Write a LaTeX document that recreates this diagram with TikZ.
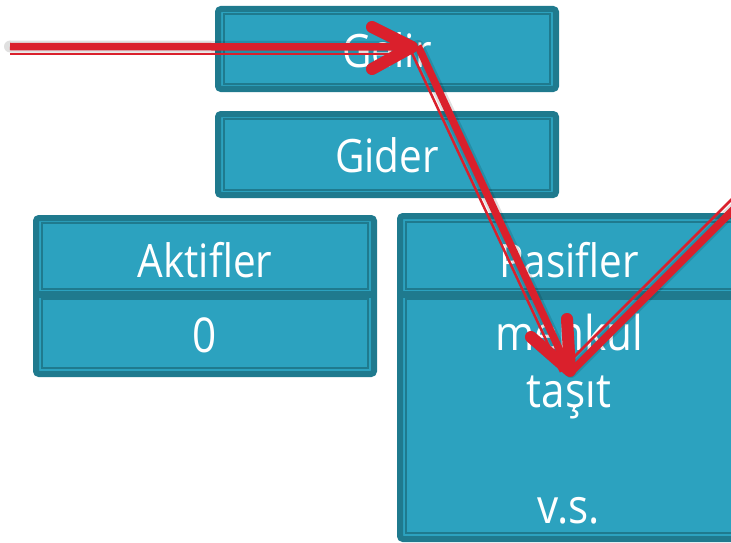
\documentclass[tikz,border=0pt]{standalone}
\usepackage{fontspec}
\setmainfont{Open Sans}[FakeStretch=0.88]
\definecolor{boxdark}{RGB}{31,122,142}
\definecolor{boxfill}{RGB}{44,162,191}
\definecolor{ink}{RGB}{218,32,44}
\tikzset{
  outerbox/.style={fill=boxfill, draw=boxdark, line width=6pt, rounded corners=3pt},
  innerline/.style={draw=boxdark, line width=1.6pt},
  divider/.style={draw=boxdark, line width=7pt},
  head/.style={text=white, font=\fontsize{46}{50}\selectfont, anchor=base, inner sep=0pt},
  body/.style={text=white, font=\fontsize{48}{52}\selectfont, anchor=base, inner sep=0pt},
  inkthick/.style={draw=ink, line width=7.5pt},
  inkthin/.style={draw=ink, line width=2.5pt},
  inkhead/.style={draw=ink, line width=12pt, line cap=round, line join=round},
  inkshadow/.style={draw=black, opacity=0.12, line width=12pt, line cap=round, line join=round},
}
\begin{document}
\begin{tikzpicture}[x=1pt,y=-1pt]
\useasboundingbox (0,0) rectangle (731,543);
\clip (0,0) rectangle (731,543);
% Gelir
\draw[outerbox] (218,9) rectangle (556,89);
\draw[innerline] (224,14) rectangle (550,84);
\node[head] (gelir) at (387,67) {Gelir};
% Gider
\draw[outerbox] (218,114) rectangle (556,195);
\draw[innerline] (224,119) rectangle (550,190);
\node[head] (gider) at (387,172) {Gider};
% Aktifler
\draw[outerbox] (36,218) rectangle (374,374);
\draw[divider] (36,294) -- (374,294);
\draw[innerline] (42,223) rectangle (368,289);
\draw[innerline] (42,299) rectangle (368,368);
\node[head] (aktif) at (205,277) {Aktifler};
\node[body] (sifir) at (205,352) {0};
% Pasifler
\draw[outerbox] (400,216) rectangle (738,539);
\draw[divider] (400,294) -- (738,294);
\draw[innerline] (406,222) rectangle (732,289);
\draw[innerline] (406,299) rectangle (732,533);
\node[head] (pasif) at (569,277) {Pasifler};
\node[body] (menkul) at (569,350) {menkul};
\node[body] (tasit) at (569,407) {taşıt};
\node[body] (vs) at (569,523) {v.s.};
% ink annotations
\coordinate (s1) at (10,46.5);
\coordinate (t1) at (412,47);
\coordinate (s1b) at (10,54);
\coordinate (t1b) at (404,54);
\coordinate (d1) at (418,46);
\coordinate (d2) at (568,368);
\coordinate (d1b) at (411,51);
\coordinate (d2b) at (561,372);
\coordinate (r1) at (745,198);
\coordinate (r2) at (571,372);
\coordinate (r1b) at (739,192);
\coordinate (r2b) at (566,365);
\coordinate (h1a) at (372,27);
\coordinate (h1b) at (372,69);
\coordinate (h2a) at (531,337);
\coordinate (h2b) at (567,319);
\coordinate (h2t) at (570,371);
% shadows
\begin{scope}[shift={(3,6)}]
\draw[inkshadow] (s1) -- (t1);
\draw[inkshadow] (d1) -- (d2);
\draw[inkshadow] (r1) -- (r2);
\draw[inkshadow] (h1a) -- (t1) -- (h1b);
\draw[inkshadow] (h2a) -- (h2t) -- (h2b);
\end{scope}
% strokes
\draw[inkthick] (s1) -- (t1);
\draw[inkthin] (s1b) -- (t1b);
\draw[inkthick] (d1) -- (d2);
\draw[inkthin] (d1b) -- (d2b);
\draw[inkthick] (r1) -- (r2);
\draw[inkthin] (r1b) -- (r2b);
\draw[inkhead] (h1a) -- (t1) -- (h1b);
\draw[inkhead] (h2a) -- (h2t) -- (h2b);
\end{tikzpicture}
\end{document}
